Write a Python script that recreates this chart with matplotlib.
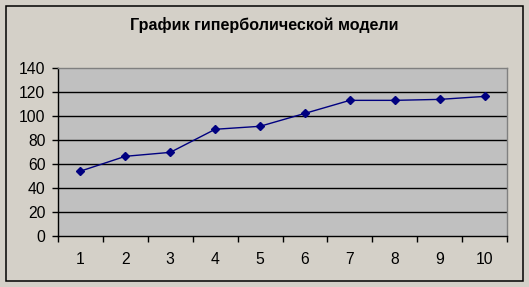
import matplotlib
matplotlib.use("Agg")
import matplotlib.pyplot as plt
from matplotlib.patches import Rectangle
import numpy as np

categories = [1, 2, 3, 4, 5, 6, 7, 8, 9, 10]
values = [54, 66.4, 69.7, 89, 91.5, 102.3, 113.2, 113.2, 114, 116.5]
y_ticks = [0, 20, 40, 60, 80, 100, 120, 140]
title = "График гиперболической модели"

plt.rcParams['font.family'] = ['Liberation Sans', 'DejaVu Sans']

W, H = 529, 287
fig = plt.figure(figsize=(W / 100, H / 100), dpi=100)
fig.patch.set_facecolor('#D4D0C8')

# outer border
fig.patches.append(Rectangle((5.5 / W, 1 - 280.5 / H), (522.5 - 5.5) / W, (280.5 - 5.5) / H,
                             transform=fig.transFigure, fill=False, edgecolor='black', linewidth=1.1))

left, right, top, bottom = 58, 507, 68.3, 235.7
ax = fig.add_axes([left / W, 1 - bottom / H, (right - left) / W, (bottom - top) / H])
ax.set_facecolor('#C0C0C0')

ax.plot(categories, values, color='#000080', linewidth=1.0, marker='D', markersize=4.5,
        markerfacecolor='#000080', markeredgecolor='#000080', zorder=3)

ax.set_xlim(0.5, 10.5)
ax.set_ylim(0, 140)
ax.set_yticks(y_ticks)
ax.set_yticklabels([str(v) for v in y_ticks], fontsize=11.3)
ax.set_xticks(categories)
ax.set_xticklabels([str(c) for c in categories], fontsize=11.3)
ax.set_xticks(np.arange(0.5, 11, 1), minor=True)
ax.tick_params(axis='x', which='major', length=0, pad=12)
ax.tick_params(axis='x', which='minor', length=4, width=1, direction='out', color='black')
ax.tick_params(axis='y', which='major', length=4, width=1, direction='out', pad=5)

for y in y_ticks[1:-1]:
    ax.axhline(y, color='black', linewidth=1.0, zorder=1)

for s in ['top', 'right']:
    ax.spines[s].set_color('#808080')
    ax.spines[s].set_linewidth(1.0)
for s in ['left', 'bottom']:
    ax.spines[s].set_color('black')
    ax.spines[s].set_linewidth(1.0)

fig.text(264 / W, 1 - 25 / H, title, ha='center', va='center', fontsize=11.6, fontweight='bold')

fig.savefig('out.png', dpi=100, facecolor=fig.get_facecolor())
